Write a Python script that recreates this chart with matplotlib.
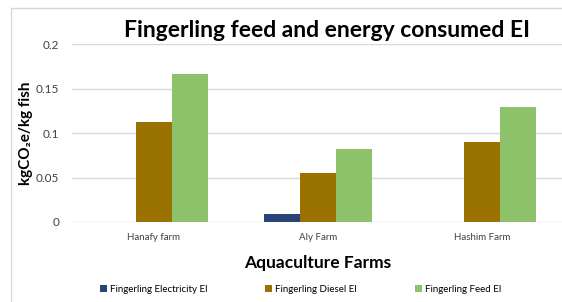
import matplotlib.pyplot as plt
import numpy as np
from matplotlib.patches import Rectangle

farms = ["Hanafy farm", "Aly Farm", "Hashim Farm"]
electricity = [0.0, 0.0093, 0.0]
diesel = [0.1124, 0.0547, 0.0899]
feed = [0.166, 0.082, 0.129]
series = ["Fingerling Electricity EI", "Fingerling Diesel EI", "Fingerling Feed EI"]
colors = ["#264478", "#9a7200", "#8dc16a"]
yticks = [0, 0.05, 0.1, 0.15, 0.2]

plt.rcParams['font.family'] = ['Lato', 'DejaVu Sans']

fig = plt.figure(figsize=(5.62, 3.02), dpi=100)
ax = fig.add_axes([0.128, 0.265, 0.875, 0.589])

x = np.arange(len(farms))
w = 0.22
for i, (vals, name) in enumerate(zip([electricity, diesel, feed], series)):
    ax.bar(x + (i - 1) * w, vals, w, color=colors[i], label=name, zorder=3)

ax.set_xlim(-0.5, 2.5)
ax.set_ylim(0, 0.2)
ax.set_yticks(yticks)
ax.set_yticklabels(["0", "0.05", "0.1", "0.15", "0.2"], fontsize=8.5, color="#404040")
ax.set_xticks(x)
ax.set_xticklabels(farms, fontsize=7, color="#404040")
ax.tick_params(length=0, pad=8)
ax.tick_params(axis='y', pad=9)
ax.grid(axis='y', color="#d9d9d9", linewidth=1, zorder=0)
for s in ax.spines.values():
    s.set_visible(False)

ax.set_xlabel("Aquaculture Farms", fontsize=12.5, fontweight='bold', labelpad=9)
ax.set_ylabel("kgCO₂e/kg fish", fontsize=11, fontweight='bold', labelpad=2)
fig.text(0.582, 0.90, "Fingerling feed and energy consumed EI", fontsize=16.5,
         fontweight='bold', ha='center', va='center')

fig.legend(loc='center', bbox_to_anchor=(0.535, 0.043), ncol=3, frameon=False,
           fontsize=7, handlelength=0.7, handleheight=0.7, handletextpad=0.3,
           columnspacing=6.0)

fig.patches.append(Rectangle((11 / 562, -0.1), 1.2, 1 - 8 / 302 + 0.1,
                             transform=fig.transFigure, fill=False,
                             edgecolor="#d9d9d9", linewidth=1))

fig.savefig("out.png", dpi=100)
